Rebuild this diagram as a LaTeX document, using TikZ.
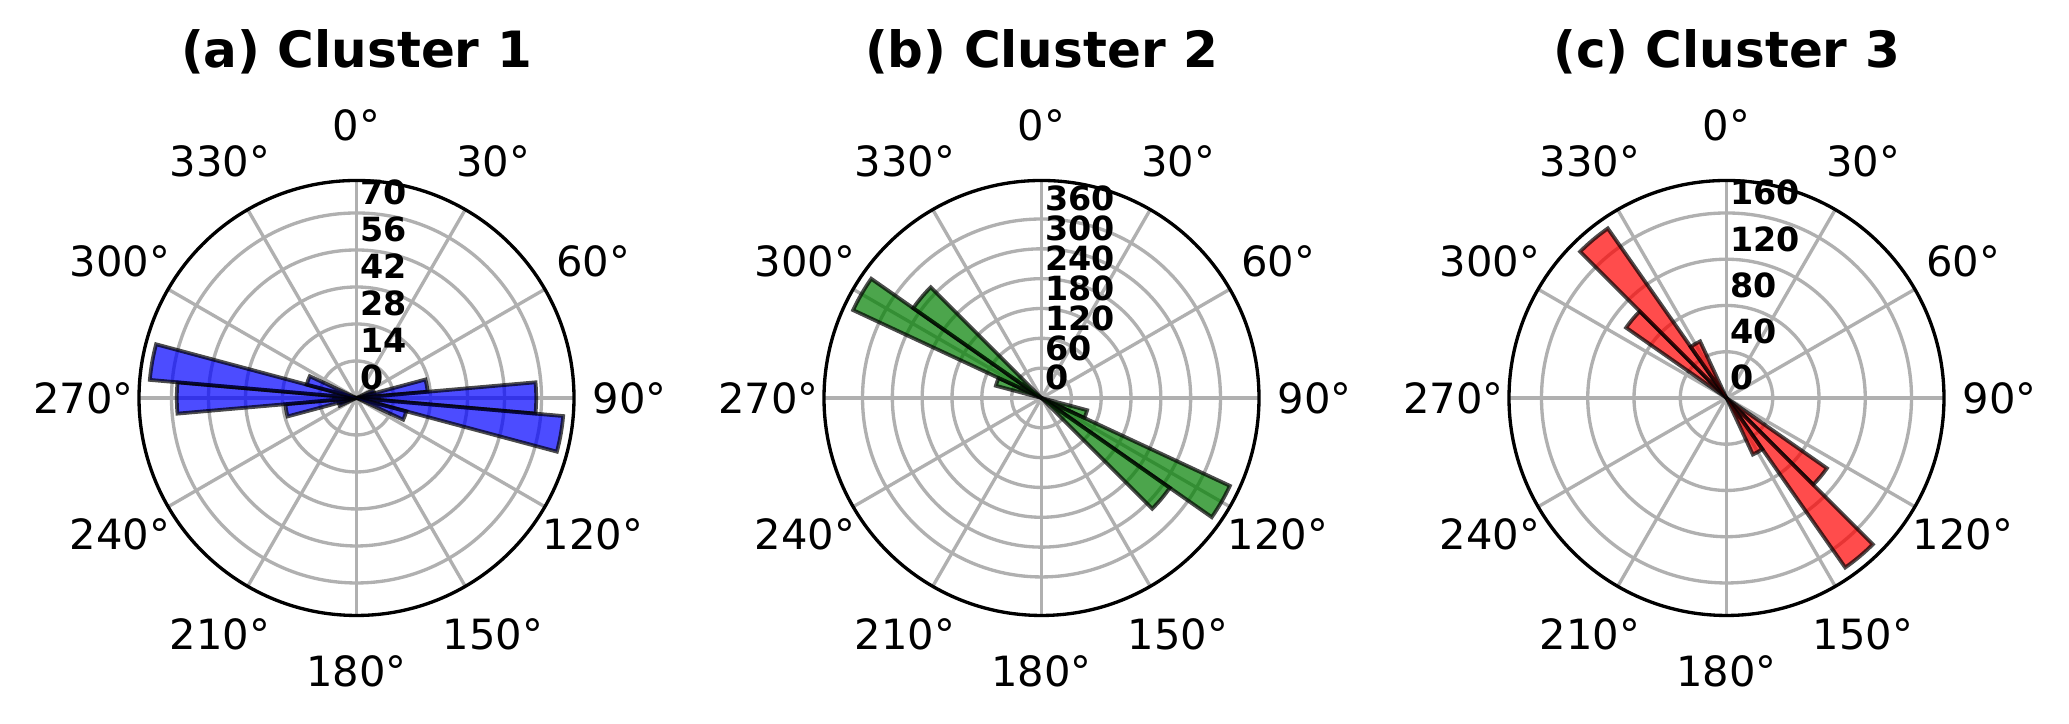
\documentclass[tikz,border=0pt]{standalone}
\usepackage{fontspec}
\setmainfont{DejaVu Sans}

\begin{document}
\begin{tikzpicture}[x=0.24pt,y=0.24pt,
        gridline/.style={draw=black!31, line width=0.8pt},
        spine/.style={draw=black, line width=0.8pt},
        bar/.style={fill=#1, fill opacity=0.7, draw=black, draw opacity=0.7, line width=0.9pt},
        anglabel/.style={font=\fontsize{10}{12}\selectfont, inner sep=0pt},
        rlabel/.style={font=\fontsize{8}{9}\selectfont\bfseries, inner sep=0pt, anchor=base west},
        paneltitle/.style={font=\fontsize{12}{14}\selectfont\bfseries, inner sep=0pt, anchor=base}]
    \fill[white] (0,0) rectangle (2069,724);
    \useasboundingbox (0,0) rectangle (2069,724);

    % (a) cluster 1
    \begin{scope}[shift={(356.5,326)}]
        \foreach \a in {0,30,...,330} \draw[gridline] (0,0) -- (\a:217.5);
        \foreach \k in {1,...,5} \draw[gridline] (0,0) circle[radius=\k*37];
        \foreach \a/\v in {70/7,80/27,90/68,100/78.5,110/19.5,250/7,260/27,270/68,280/78.5,290/19.5} {
            \pgfmathsetmacro\rr{\v/14*37}
            \pgfmathsetmacro\sa{95-\a}
            \pgfmathsetmacro\ea{85-\a}
            \filldraw[bar=blue] (0,0) -- (\sa:\rr) arc[start angle=\sa, end angle=\ea, radius=\rr] -- cycle;
        }
        \draw[spine] (0,0) circle[radius=217.5];
        \foreach \a in {0,30,...,330} \node[anglabel] (a-t\a) at ({90-\a}:273) {\a°};
        \foreach \k/\l in {0/0,1/14,2/28,3/42,4/56,5/70} \node[rlabel] (a-r\k) at (3,\k*37+8) {\l};
        \node[paneltitle] (a-title) at (0,330) {(a) Cluster 1};
    \end{scope}

    % (b) cluster 2
    \begin{scope}[shift={(1041.5,326)}]
        \foreach \a in {0,30,...,330} \draw[gridline] (0,0) -- (\a:217.5);
        \foreach \k in {1,...,6} \draw[gridline] (0,0) circle[radius=\k*29.83];
        \foreach \a/\v in {110/95,120/418,130/315,290/95,300/418,310/315} {
            \pgfmathsetmacro\rr{\v/360*179}
            \pgfmathsetmacro\sa{95-\a}
            \pgfmathsetmacro\ea{85-\a}
            \filldraw[bar=green!50!black] (0,0) -- (\sa:\rr) arc[start angle=\sa, end angle=\ea, radius=\rr] -- cycle;
        }
        \draw[spine] (0,0) circle[radius=217.5];
        \foreach \a in {0,30,...,330} \node[anglabel] (b-t\a) at ({90-\a}:273) {\a°};
        \foreach \k/\l in {0/0,1/60,2/120,3/180,4/240,5/300,6/360} \node[rlabel] (b-r\k) at (3,\k*29.83+8) {\l};
        \node[paneltitle] (b-title) at (0,330) {(b) Cluster 2};
    \end{scope}

    % (c) cluster 3
    \begin{scope}[shift={(1726.5,326)}]
        \foreach \a in {0,30,...,330} \draw[gridline] (0,0) -- (\a:217.5);
        \foreach \k in {1,...,4} \draw[gridline] (0,0) circle[radius=\k*46.25];
        \foreach \a/\v in {130/106,140/179,150/54,310/106,320/179,330/54} {
            \pgfmathsetmacro\rr{\v/160*185}
            \pgfmathsetmacro\sa{95-\a}
            \pgfmathsetmacro\ea{85-\a}
            \filldraw[bar=red] (0,0) -- (\sa:\rr) arc[start angle=\sa, end angle=\ea, radius=\rr] -- cycle;
        }
        \draw[spine] (0,0) circle[radius=217.5];
        \foreach \a in {0,30,...,330} \node[anglabel] (c-t\a) at ({90-\a}:273) {\a°};
        \foreach \k/\l in {0/0,1/40,2/80,3/120,4/160} \node[rlabel] (c-r\k) at (3,\k*46.25+8) {\l};
        \node[paneltitle] (c-title) at (0,330) {(c) Cluster 3};
    \end{scope}
\end{tikzpicture}
\end{document}
